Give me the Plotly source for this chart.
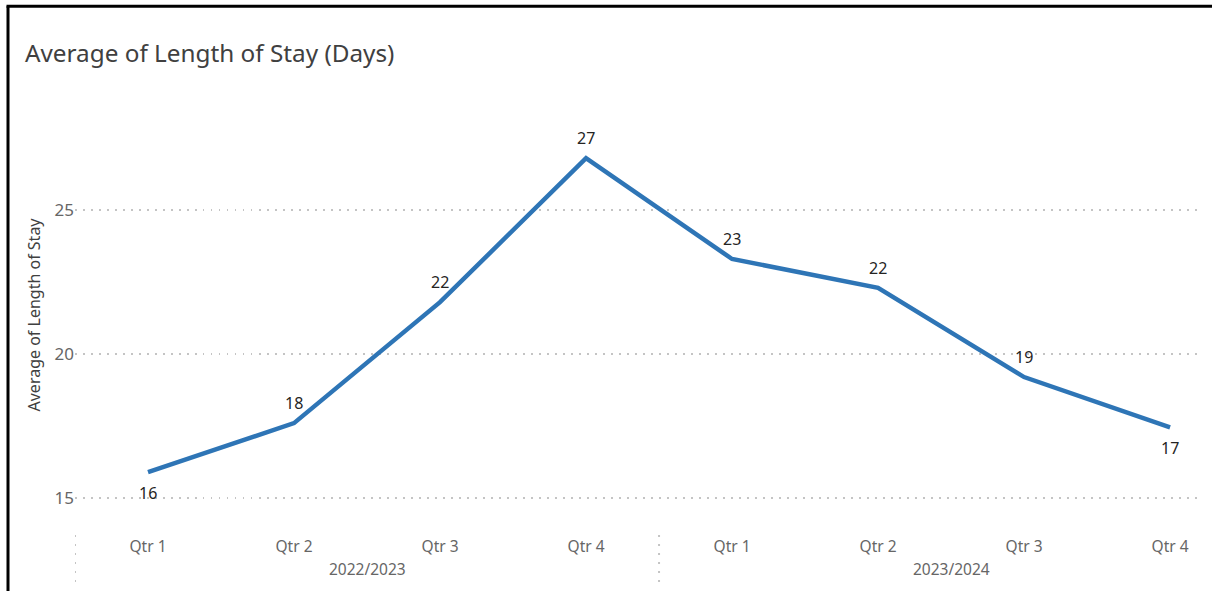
import plotly.graph_objects as go

quarters = ["Qtr 1", "Qtr 2", "Qtr 3", "Qtr 4", "Qtr 1", "Qtr 2", "Qtr 3", "Qtr 4"]
years = ["2022/2023", "2023/2024"]
avg_los = [15.9, 17.6, 21.8, 26.8, 23.3, 22.3, 19.2, 17.45]
label_above = [False, True, True, True, True, True, True, False]
y_ticks = [15, 20, 25]

x_idx = list(range(len(quarters)))
labels = [str(int(round(v))) for v in avg_los]

FONT = "Segoe UI, Noto Sans, sans-serif"

fig = go.Figure()
fig.add_trace(go.Scatter(
    x=x_idx, y=avg_los, mode="lines",
    line=dict(color="#2E75B6", width=4.5),
    hoverinfo="skip", showlegend=False,
))
for xi, v, lab, up in zip(x_idx, avg_los, labels, label_above):
    fig.add_annotation(x=xi, y=v, xref="x", yref="y", text=lab, showarrow=False,
                       yanchor="middle", yshift=20 if up else -21,
                       font=dict(family=FONT, size=16, color="#252423"))

L, R, T, B = 75, 12, 130, 91
W, H = 1212, 591
pw, ph = W - L - R, H - T - B

fig.update_layout(
    width=W, height=H,
    margin=dict(l=L, r=R, t=T, b=B),
    paper_bgcolor="white", plot_bgcolor="white",
    font=dict(family=FONT, color="#666666"),
    title=dict(text="Average of Length of Stay (Days)", x=25 / W, xanchor="left",
               y=1 - 53 / H, yanchor="middle",
               font=dict(family=FONT, size=24.3, color="#404040")),
    xaxis=dict(range=[-0.5, 7.205], tickvals=x_idx, ticktext=quarters,
               showgrid=False, zeroline=False, showline=False, ticks="",
               ticklabelstandoff=35,
               tickfont=dict(family=FONT, size=15.5, color="#666666")),
    yaxis=dict(range=[14.93, 27.78], tickvals=y_ticks, showgrid=True,
               gridcolor="#c4c4c4", griddash="1.5px,6.5px", gridwidth=1.5,
               zeroline=False, showline=False, ticks="",
               tickfont=dict(family=FONT, size=17, color="#666666"),
               title=dict(text="Average of Length of Stay", standoff=9,
                          font=dict(family=FONT, size=16, color="#404040"))),
)

# year group labels and dotted separators
n_per_year = 4
for i, yr in enumerate(years):
    center = i * n_per_year + (n_per_year - 1) / 2
    fig.add_annotation(x=center, xref="x", y=-69 / ph, yref="paper",
                       text=yr, showarrow=False, yanchor="middle",
                       font=dict(family=FONT, size=15.5, color="#666666"))
    sep = i * n_per_year - 0.5
    fig.add_shape(type="line", xref="x", yref="paper", x0=sep, x1=sep,
                  y0=-35 / ph, y1=-86 / ph,
                  line=dict(color="#c4c4c4", width=2, dash="2px,7px"))

# outer border (top and left)
bx = (8 - L) / pw
by = (T + ph - 6.3) / ph
fig.add_shape(type="line", xref="paper", yref="paper", x0=bx - 1.5 / pw, x1=(W - L) / pw + 0.01,
              y0=by, y1=by, line=dict(color="black", width=3))
fig.add_shape(type="line", xref="paper", yref="paper", x0=bx, x1=bx,
              y0=by, y1=-(B + 5) / ph, line=dict(color="black", width=3))

fig.write_html("out.html", config={"displayModeBar": False},
               post_script="document.body.style.margin='0';document.body.style.padding='0';")
